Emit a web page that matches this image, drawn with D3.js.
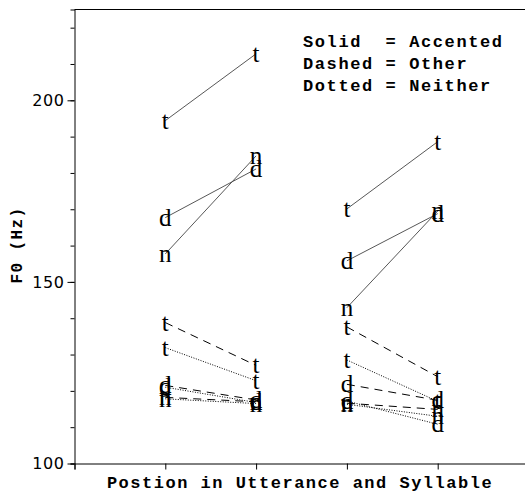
<!DOCTYPE html>
<html>
<head>
<meta charset="utf-8">
<script src="https://cdn.jsdelivr.net/npm/d3@7"></script>
<style>
  body { margin: 0; background: #fff; }
  svg { display: block; }
</style>
</head>
<body>
<svg id="chart"></svg>
<script>
// F0 values per phoneme, at positions 1..4 (pairs 1-2 and 3-4 are joined)
var phonemes = ['t', 'd', 'n']
var positions = [1, 2, 3, 4]
var accented = [[194.4, 212.8, 170.1, 188.6], [167.7, 181.1, 155.8, 168.8], [157.7, 184.7, 142.9, 169.5]]
var other = [[138.8, 127.0, 137.6, 123.9], [121.5, 117.5, 121.8, 117.4], [118.2, 117.0, 116.6, 114.9]]
var neither = [[131.9, 122.8, 128.5, 117.1], [121.0, 116.8, 117.2, 110.8], [117.8, 116.5, 116.3, 113.0]]
var yTicks = [100, 150, 200]
var legendLines = ['Solid  = Accented', 'Dashed = Other', 'Dotted = Neither']

var width = 525, height = 493

var svg = d3.select('#chart').attr('width', width).attr('height', height)

var x = d3.scaleLinear().domain([0, 5]).range([74.5, 528.5])
var y = d3.scaleLinear().domain([100, 225]).range([463.5, 9.5])

var mono = "'Liberation Mono', 'Courier New', monospace"

// axes
var yAxis = d3.axisLeft(y)
    .tickValues(d3.range(100, 225, 10))
    .tickSize(4)
    .tickFormat('')
svg.append('g').attr('transform', 'translate(' + x(0) + ',0)').call(yAxis)
svg.append('g').attr('transform', 'translate(' + x(0) + ',0)')
    .call(d3.axisLeft(y).tickValues(yTicks).tickSize(7).tickPadding(3))
    .call(function(g) { g.select('.domain').remove() })
    .selectAll('text')
    .attr('font-family', "'DejaVu Sans', sans-serif")
    .attr('font-size', '16px')
    .attr('letter-spacing', '0.6px')
    .attr('fill', '#000')

svg.append('g').attr('transform', 'translate(0,' + y(100) + ')')
    .call(d3.axisBottom(x).tickValues([0, 1, 2, 3, 4]).tickSize(6).tickFormat(''))

svg.selectAll('.domain, .tick line').attr('stroke', '#000')

// top frame
svg.append('line')
    .attr('x1', x(0)).attr('x2', width)
    .attr('y1', y(225)).attr('y2', y(225))
    .attr('stroke', '#000')

// axis titles
svg.append('text')
    .text('Postion in Utterance and Syllable')
    .attr('x', 300)
    .attr('y', 488)
    .attr('text-anchor', 'middle')
    .attr('font-family', mono)
    .attr('font-weight', 'bold')
    .attr('font-size', '17px')
    .attr('letter-spacing', '1.5px')

svg.append('text')
    .text('F0 (Hz)')
    .attr('transform', 'translate(22,245) rotate(-90)')
    .attr('text-anchor', 'middle')
    .attr('font-family', mono)
    .attr('font-weight', 'bold')
    .attr('font-size', '16px')
    .attr('letter-spacing', '1.4px')

// legend
svg.selectAll('.legend')
    .data(legendLines)
    .enter().append('text')
    .attr('class', 'legend')
    .text(function(d) { return d })
    .attr('x', 303)
    .attr('y', function(d, i) { return 46.5 + i * 22.3 })
    .attr('font-family', mono)
    .attr('font-weight', 'bold')
    .attr('font-size', '17px')
    .attr('letter-spacing', '1.6px')
    .style('white-space', 'pre')

// lines and letters
var groups = [
    {values: accented, dash: null, color: '#444', sw: 0.9},
    {values: other, dash: '8,6', color: '#000', sw: 1},
    {values: neither, dash: '1,1.5', color: '#000', sw: 1}
]

groups.forEach(function(g) {
    g.values.forEach(function(vals, p) {
        [[0, 1], [2, 3]].forEach(function(pair) {
            svg.append('line')
                .attr('x1', x(positions[pair[0]])).attr('y1', y(vals[pair[0]]))
                .attr('x2', x(positions[pair[1]])).attr('y2', y(vals[pair[1]]))
                .attr('stroke', g.color)
                .attr('stroke-width', g.sw)
                .attr('stroke-dasharray', g.dash)
        })
    })
})

groups.forEach(function(g) {
    g.values.forEach(function(vals, p) {
        vals.forEach(function(v, i) {
            svg.append('text')
                .text(phonemes[p])
                .attr('x', x(positions[i]))
                .attr('y', y(v) + 8)
                .attr('text-anchor', 'middle')
                .attr('font-family', "'Liberation Serif', serif")
                .attr('font-size', '25px')
        })
    })
})
</script>
</body>
</html>
